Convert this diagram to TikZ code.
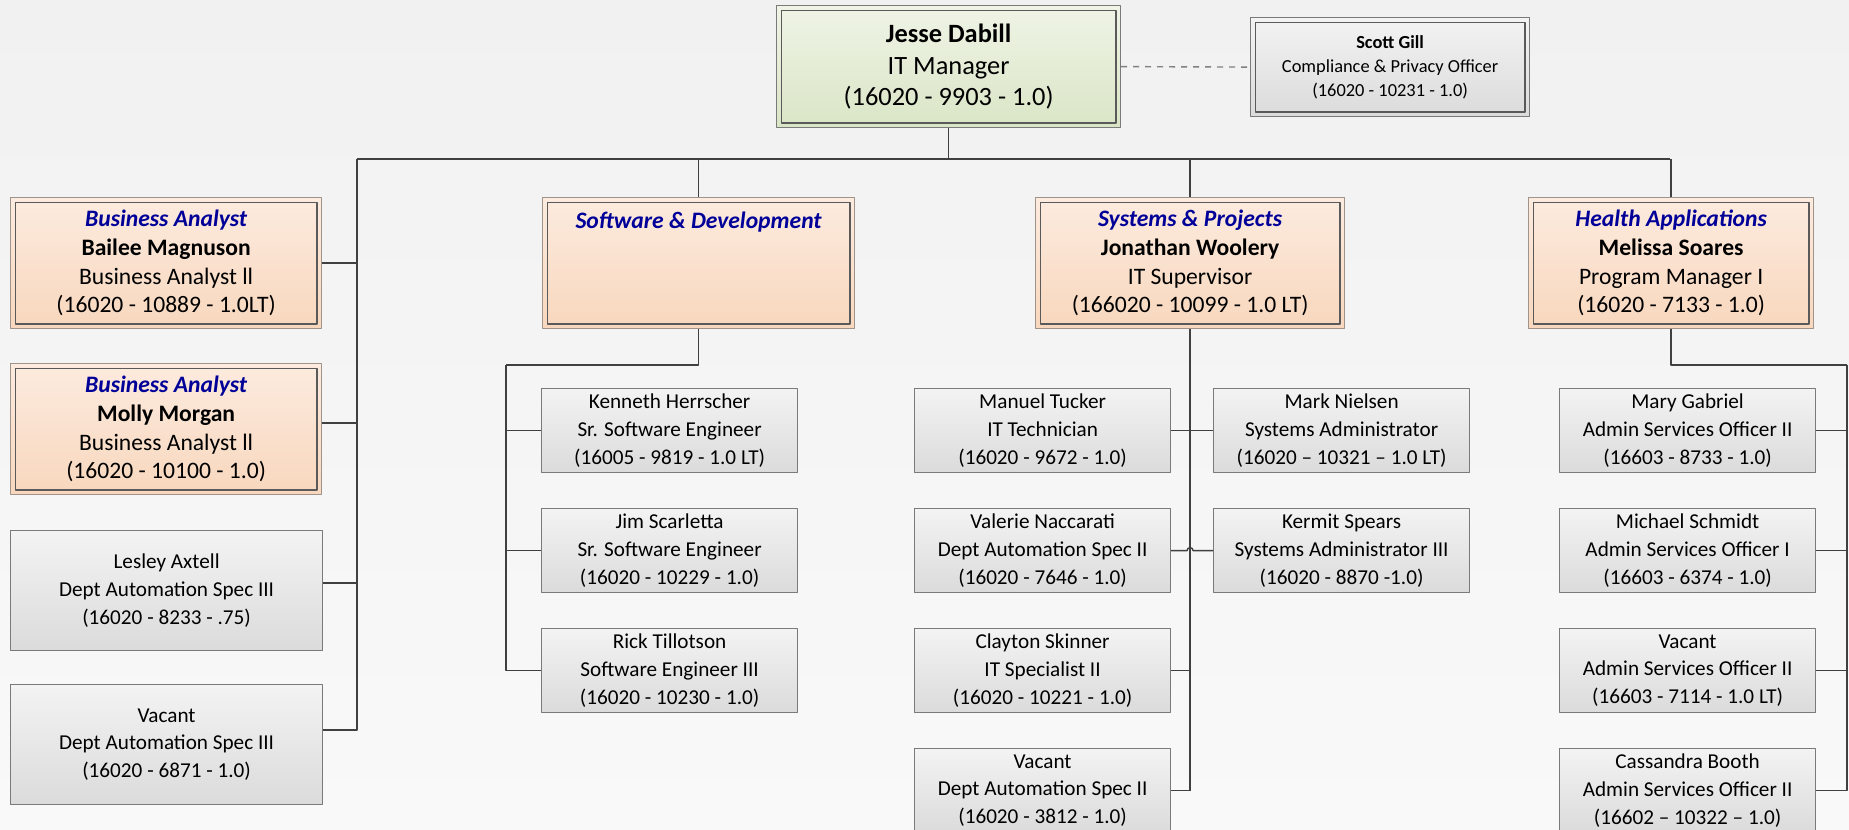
\documentclass[tikz,border=0pt]{standalone}
\usepackage{fontspec}
\setmainfont{Carlito}
\usetikzlibrary{calc}
\definecolor{bgtop}{HTML}{F1F1F1}
\definecolor{bgbot}{HTML}{F9F9F9}
\definecolor{kidtop}{HTML}{F3F3F3}
\definecolor{kidbot}{HTML}{DBDBDB}
\definecolor{boxgray}{HTML}{7A7A7A}
\definecolor{headtop}{HTML}{FCEBDF}
\definecolor{headbot}{HTML}{F8D7BD}
\definecolor{headout}{HTML}{A0948A}
\definecolor{frameline}{HTML}{5A5A5A}
\definecolor{mgrtop}{HTML}{EFF4E6}
\definecolor{mgrbot}{HTML}{DAE5C6}
\definecolor{hdblue}{HTML}{000099}
\definecolor{linkgray}{HTML}{404040}
\definecolor{dashgray}{HTML}{808080}
\newcommand\unitname[1]{{\bfseries\itshape\color{hdblue}#1}}
\newcommand\who[1]{{\bfseries #1}}
\begin{document}
\begin{tikzpicture}[x=0.5pt, y=-0.5pt, line join=round,
  link/.style={draw=linkgray, line width=0.7pt},
  box/.style={draw=boxgray, line width=0.6pt, inner sep=0pt, align=center, anchor=north west},
  frame/.style={path picture={\draw[draw=#1, line width=0.6pt]
    ([shift={(2.3pt,2.3pt)}]path picture bounding box.south west) rectangle
    ([shift={(-2.3pt,-2.3pt)}]path picture bounding box.north east);}},
  kid/.style={box, top color=kidtop, bottom color=kidbot, minimum width=128pt, minimum height=42pt,
    font=\fontsize{10.6}{13.8}\selectfont},
  head/.style={box, draw=headout, top color=headtop, bottom color=headbot, frame=frameline,
    minimum width=155.5pt, minimum height=65.5pt, font=\fontsize{11.8}{14.35}\selectfont},
  mgr/.style={box, top color=mgrtop, bottom color=mgrbot, frame=frameline,
    minimum width=172pt, minimum height=61pt, font=\fontsize{13.2}{15.6}\selectfont}]
\useasboundingbox (0,0) rectangle (1849,830);
\shade[top color=bgtop, bottom color=bgbot] (0,0) rectangle (1849,830);

% manager and staff office
\node[mgr] (jesse) at (776,5) {\who{Jesse Dabill}\\IT Manager\\(16020 - 9903 - 1.0)};
\node[box, top color=kidtop, bottom color=kidbot, frame=frameline, minimum width=139.5pt,
  minimum height=49.5pt, font=\fontsize{9.2}{12}\selectfont] (scott) at (1250,17)
  {\who{Scott Gill}\\Compliance \& Privacy Officer\\(16020 - 10231 - 1.0)};

% units
\node[head] (ba1) at (10,197) {\unitname{Business Analyst}\\\who{Bailee Magnuson}\\Business Analyst ll\\(16020 - 10889 - 1.0LT)};
\node[head] (ba2) at (10,363) {\unitname{Business Analyst}\\\who{Molly Morgan}\\Business Analyst ll\\(16020 - 10100 - 1.0)};
\node[kid, minimum width=156pt, minimum height=60pt] (lesley) at (10,530) {Lesley Axtell\\Dept Automation Spec III\\(16020 - 8233 - .75)};
\node[kid, minimum width=156pt, minimum height=60pt] (vacda) at (10,684) {Vacant\\Dept Automation Spec III\\(16020 - 6871 - 1.0)};
\node[head, minimum width=156pt] (swd) at (542,197) {\unitname{Software \& Development}\\\mbox{}\\\mbox{}\\\mbox{}};
\node[head, minimum width=154.5pt] (sysp) at (1035,197) {\unitname{Systems \& Projects}\\\who{Jonathan Woolery}\\IT Supervisor\\(166020 - 10099 - 1.0 LT)};
\node[head, minimum width=142.5pt] (hlth) at (1528,197) {\unitname{Health Applications}\\\who{Melissa Soares}\\Program Manager I\\(16020 - 7133 - 1.0)};

% staff
\foreach \n/\x/\y/\t in {
  herr/541/388/{Kenneth Herrscher\\Sr. Software Engineer\\(16005 - 9819 - 1.0 LT)},
  scar/541/508/{Jim Scarletta\\Sr. Software Engineer\\(16020 - 10229 - 1.0)},
  till/541/628/{Rick Tillotson\\Software Engineer III\\(16020 - 10230 - 1.0)},
  tuck/914/388/{Manuel Tucker\\IT Technician\\(16020 - 9672 - 1.0)},
  nacc/914/508/{Valerie Naccarati\\Dept Automation Spec II\\(16020 - 7646 - 1.0)},
  skin/914/628/{Clayton Skinner\\IT Specialist II\\(16020 - 10221 - 1.0)},
  vacsys/914/748/{Vacant\\Dept Automation Spec II\\(16020 - 3812 - 1.0)},
  niel/1213/388/{Mark Nielsen\\Systems Administrator\\(16020 \textendash{} 10321 \textendash{} 1.0 LT)},
  spea/1213/508/{Kermit Spears\\Systems Administrator III\\(16020 - 8870 -1.0)},
  gabr/1559/388/{Mary Gabriel\\Admin Services Officer II\\(16603 - 8733 - 1.0)},
  schm/1559/508/{Michael Schmidt\\Admin Services Officer I\\(16603 - 6374 - 1.0)},
  vaca/1559/628/{Vacant\\Admin Services Officer II\\(16603 - 7114 - 1.0 LT)},
  boot/1559/748/{Cassandra Booth\\Admin Services Officer II\\(16602 \textendash{} 10322 \textendash{} 1.0)}}
  \node[kid] (\n) at (\x,\y) {\t};

% connectors
\coordinate (busl) at (357,159);
\coordinate (busr) at (1670,159);
\draw[link] (busl) -- (busr);
\draw[link] (jesse.south) -- (jesse.south |- busl);
\draw[link, dashed, draw=dashgray] (jesse.east) -- (scott.west);
\foreach \n in {swd,sysp,hlth} \draw[link] (\n.north) -- (\n.north |- busl);
\foreach \n/\d in {ba1/66,ba2/60,lesley/53,vacda/46} \draw[link] (busl) |- ($(\n.north east)+(0,\d)$);

\coordinate (swbus) at (506,365);
\draw[link] (swd.south) |- (swbus);
\foreach \n in {herr,scar,till} \draw[link] (swbus) |- (\n.west);

\draw[link] (sysp.south) -- (sysp.south |- vacsys.east);
\draw[link] (tuck.east) -- (niel.west);
\draw[link] (nacc.east) -- ($(nacc.east -| sysp.south)+(-3,0)$) arc[start angle=180, end angle=0, radius=1.5pt] -- (spea.west);
\foreach \n in {skin,vacsys} \draw[link] (\n.east) -| (sysp.south);

\coordinate (habus) at (1847,365);
\draw[link] (hlth.south) |- (habus);
\foreach \n in {gabr,schm,vaca,boot} \draw[link] (habus) |- (\n.east);
\end{tikzpicture}
\end{document}
